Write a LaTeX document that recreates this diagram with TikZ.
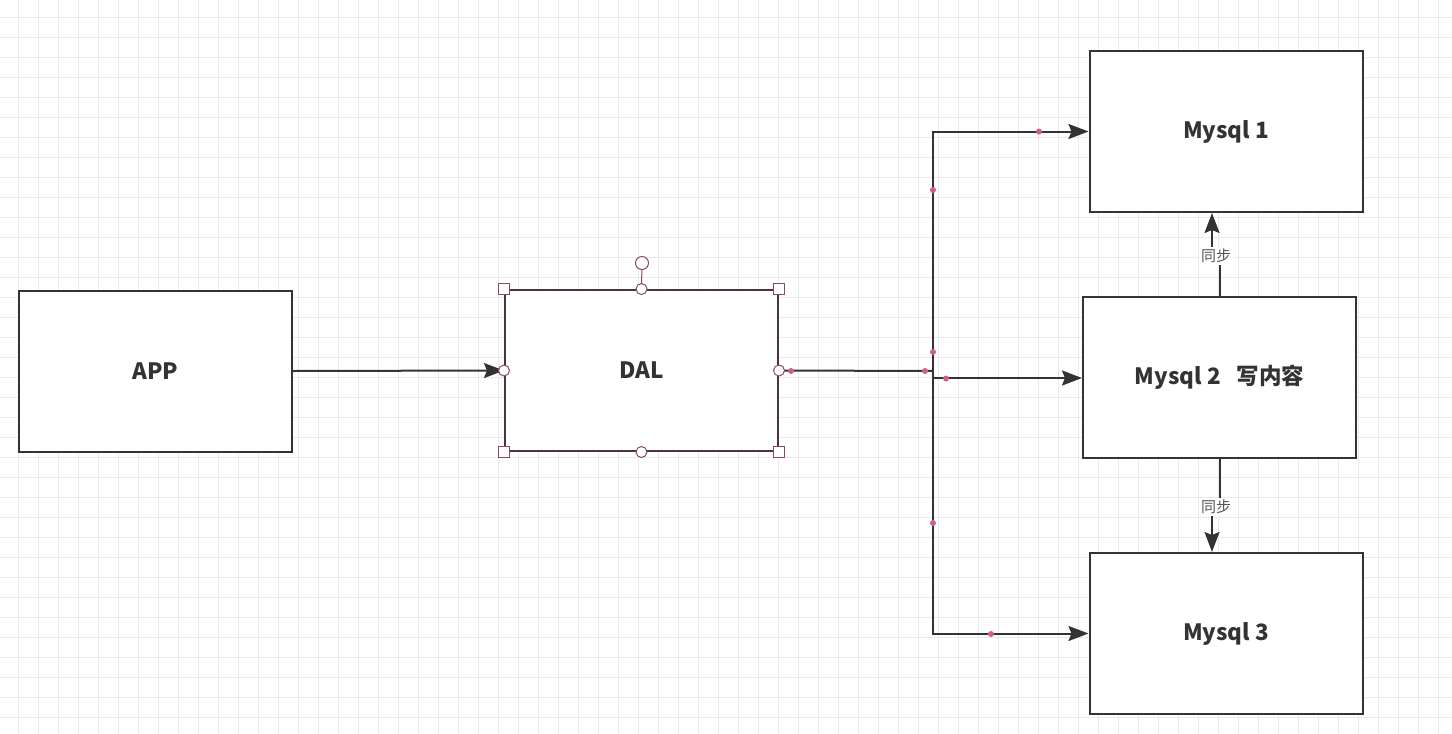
\documentclass[tikz,border=0pt]{standalone}
\usepackage{fontspec}
\setmainfont{Noto Sans CJK SC}
\usetikzlibrary{arrows.meta}
\definecolor{gridc}{HTML}{EAEAEA}
\definecolor{boxc}{HTML}{333333}
\definecolor{selc}{HTML}{4A3438}
\definecolor{handc}{HTML}{8A4A5A}
\definecolor{dotc}{HTML}{D2607C}
\definecolor{textc}{HTML}{333333}
\definecolor{lblc}{HTML}{555555}
\tikzset{
  gridline/.style={draw=gridc, line width=0.7pt},
  box/.style={draw=boxc, line width=2pt, fill=white, minimum width=273pt, minimum height=161pt,
    font=\bfseries\fontsize{22.5}{26}\selectfont, text=textc, inner sep=0pt},
  wire/.style={draw=boxc, line width=2pt},
  conn/.style={wire, -{Stealth[length=20pt,width=15pt,inset=3pt]}},
  synclbl/.style={fill=white, inner sep=2pt, text=lblc, font=\fontsize{15}{17}\selectfont},
  sqhandle/.style={draw=handc, fill=white, line width=1pt, minimum size=10.5pt, inner sep=0pt},
  cirhandle/.style={draw=handc, fill=white, line width=1pt, circle, minimum size=11pt, inner sep=0pt},
  pdot/.style={fill=dotc, circle, minimum size=6pt, inner sep=0pt},
}
\begin{document}
\begin{tikzpicture}[x=1pt,y=-1pt]
\useasboundingbox (0,0) rectangle (1452,734);
\fill[white] (0,0) rectangle (1452,734);
% grid
\foreach \gx in {18,38,...,1452} \draw[gridline] (\gx,0) -- (\gx,734);
\foreach \gy in {17,37,...,734} \draw[gridline] (0,\gy) -- (1452,\gy);

% boxes
\node[box] (app) at (155.5,371) {APP};
\node[box, draw=selc] (dal) at (641.5,370.5) {DAL};
\node[box] (m1) at (1226,131.5) {Mysql 1};
\node[box] (m2) at (1219.5,377.5) {Mysql 2\hspace{0.7em}写内容};
\node[box] (m3) at (1226,633.5) {Mysql 3};

% connectors
\coordinate (j) at (933,371);
\coordinate (j2) at (933,378);
\draw[conn] (app.east) -- (dal.west);
\draw[wire] (dal.east) -- (j);
\draw[conn] (j) |- (m1.west);
\draw[conn] (j) |- (m3.west);
\draw[wire] (j) -- (j2);
\draw[conn] (j2) -- (j2 -| m2.west);

% sync arrows
\coordinate (xa) at (1212,0);
\coordinate (xb) at (1220,0);
\node[synclbl] (s1) at (1216,256) {同步};
\node[synclbl] (s2) at (1216,507) {同步};
\draw[wire] (m2.north -| xb) -- (s1.south -| xb);
\draw[conn] (s1.north -| xa) -- (m1.south -| xa);
\draw[wire] (m2.south -| xb) -- (s2.north -| xb);
\draw[conn] (s2.south -| xa) -- (m3.north -| xa);

% selection handles on DAL
\coordinate (rot) at (642,263);
\draw[draw=handc, line width=1pt] (dal.north) -- (rot);
\node[cirhandle, minimum size=13pt] (rh) at (rot) {};
\node[sqhandle] (h1) at (dal.north west) {};
\node[sqhandle] (h2) at (dal.north east) {};
\node[sqhandle] (h3) at (dal.south west) {};
\node[sqhandle] (h4) at (dal.south east) {};
\node[cirhandle] (c1) at (dal.north) {};
\node[cirhandle] (c2) at (dal.south) {};
\node[cirhandle] (c3) at (dal.west) {};
\node[cirhandle] (c4) at (dal.east) {};

% waypoint dots
\node[pdot] (d1) at (791,371) {};
\node[pdot] (d2) at (925,371) {};
\node[pdot] (d3) at (933,352) {};
\node[pdot] (d4) at (946,378.5) {};
\node[pdot] (d5) at (933,190) {};
\node[pdot] (d6) at (1039,131.5) {};
\node[pdot] (d7) at (933,523) {};
\node[pdot] (d8) at (991,634) {};
\end{tikzpicture}
\end{document}
